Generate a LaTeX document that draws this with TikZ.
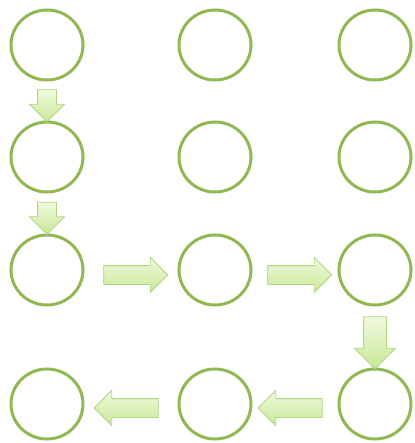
\documentclass[tikz,border=0pt]{standalone}
\usetikzlibrary{shapes.arrows,shapes.geometric,calc}
\definecolor{ringgreen}{RGB}{146,184,84}
\definecolor{arrowedge}{RGB}{178,214,128}
\definecolor{arrowtop}{RGB}{240,250,222}
\definecolor{arrowbot}{RGB}{200,232,152}
\begin{document}
\begin{tikzpicture}[x=1pt,y=1pt,yscale=-1,xscale=1,
    ring/.style={draw=ringgreen,line width=3pt,ellipse,minimum width=72,minimum height=70,inner sep=0pt},
    blockarrow/.style={single arrow,draw=arrowedge,line width=0.8pt,top color=arrowtop,bottom color=arrowbot,inner sep=9pt,single arrow head extend=8pt,minimum height=#1},
    ]
        \useasboundingbox (0,0) rectangle (414,443);
        % rings
        \node [ring] (r11) at (47,45) {};
        \node [ring] (r12) at (215,45) {};
        \node [ring] (r13) at (375,45) {};
        \node [ring] (r21) at (47,157) {};
        \node [ring] (r22) at (215,157) {};
        \node [ring] (r23) at (375,157) {};
        \node [ring] (r31) at (47,270) {};
        \node [ring] (r32) at (215,270) {};
        \node [ring] (r33) at (375,270) {};
        \node [ring] (r41) at (47,404) {};
        \node [ring] (r42) at (215,404) {};
        \node [ring] (r43) at (375,404) {};
        % arrows
        \node [blockarrow=32pt,shape border rotate=270] (d1) at ($(r11.south)!0.5!(r21.north)$) {};
        \node [blockarrow=32pt,shape border rotate=270] (d2) at ($(r21.south)!0.5!(r31.north)$) {};
        \node [blockarrow=64pt] (e1) at ($(r31.east)!0.5!(r32.west)+(0,5)$) {};
        \node [blockarrow=64pt] (e2) at ($(r32.east)!0.5!(r33.west)+(0,5)$) {};
        \node [blockarrow=52pt,inner sep=11pt,single arrow head extend=9pt,shape border rotate=270] (d3) at ($(r33.south)!0.5!(r43.north)$) {};
        \node [blockarrow=64pt,shape border rotate=180] (w1) at ($(r43.west)!0.5!(r42.east)+(0,4)$) {};
        \node [blockarrow=64pt,shape border rotate=180] (w2) at ($(r42.west)!0.5!(r41.east)+(0,4)$) {};
    \end{tikzpicture}
\end{document}
